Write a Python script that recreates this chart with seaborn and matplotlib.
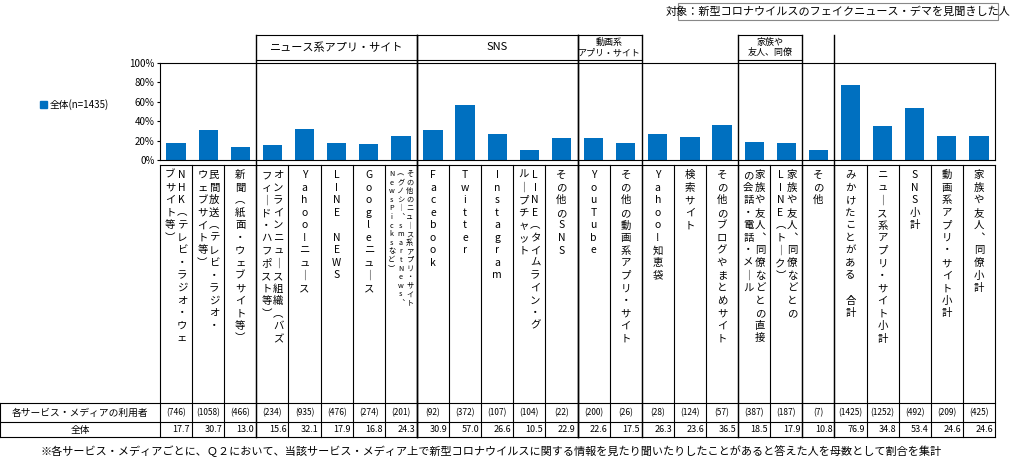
import matplotlib
matplotlib.use("Agg")
import matplotlib.pyplot as plt
import seaborn as sns
import pandas as pd
from matplotlib.lines import Line2D
from matplotlib.patches import Rectangle

plt.rcParams["font.family"] = ["Noto Sans CJK JP", "DejaVu Sans"]

labels = [
    ["NHK（テレビ・ラジオ・ウェ", "ブサイト等）"],
    ["民間放送（テレビ・ラジオ・", "ウェブサイト等）"],
    ["新聞（紙面・ウェブサイト等）"],
    ["オンラインニュース組織（バズ", "フィード・ハフポスト等）"],
    ["Yahoo!ニュース"],
    ["LINE NEWS"],
    ["Googleニュース"],
    ["その他のニュース系アプリ・サイト", "（グノシー、smartNews、", "NewsPicksなど）"],
    ["Facebook"],
    ["Twitter"],
    ["Instagram"],
    ["LINE（タイムライン・グ", "ループチャット"],
    ["その他のSNS"],
    ["YouTube"],
    ["その他の動画系アプリ・サイト"],
    ["Yahoo!知恵袋"],
    ["検索サイト"],
    ["その他のブログやまとめサイト"],
    ["家族や友人、同僚などとの直接", "の会話・電話・メール"],
    ["家族や友人、同僚などとの", "LINE（トーク）"],
    ["その他"],
    ["みかけたことがある　合計"],
    ["ニュース系アプリ・サイト小計"],
    ["SNS小計"],
    ["動画系アプリ・サイト小計"],
    ["家族や友人、同僚小計"],
]
values = [17.7, 30.7, 13.0, 15.6, 32.1, 17.9, 16.8, 24.3, 30.9, 57.0, 26.6, 10.5, 22.9,
          22.6, 17.5, 26.3, 23.6, 36.5, 18.5, 17.9, 10.8, 76.9, 34.8, 53.4, 24.6, 24.6]
users = ["(746)", "(1058)", "(466)", "(234)", "(935)", "(476)", "(274)", "(201)", "(92)",
         "(372)", "(107)", "(104)", "(22)", "(200)", "(26)", "(28)", "(124)", "(57)",
         "(387)", "(187)", "(7)", "(1425)", "(1252)", "(492)", "(209)", "(425)"]
groups = [("ニュース系アプリ・サイト", 3, 7), ("SNS", 8, 12), ("動画系\nアプリ・サイト", 13, 14),
          ("家族や\n友人、同僚", 18, 19)]
BLUE = "#0070C0"

W, H = 1024, 462
fig = plt.figure(figsize=(W / 100, H / 100), dpi=100)
x0, x1, ytop, ybot = 160, 995, 63, 160
ax = fig.add_axes([x0 / W, 1 - ybot / H, (x1 - x0) / W, (ybot - ytop) / H])
df = pd.DataFrame({"i": list(range(len(values))), "v": values})
sns.barplot(data=df, x="i", y="v", color=BLUE, width=0.6, ax=ax, saturation=1)
ax.set_xlim(-0.5, len(values) - 0.5)
ax.set_ylim(0, 100)
ax.set_yticks([0, 20, 40, 60, 80, 100])
ax.set_yticklabels([f"{t}%" for t in range(0, 101, 20)], fontsize=7)
ax.set_xticks([])
ax.set_xlabel("")
ax.set_ylabel("")
ax.tick_params(axis="y", length=2, pad=2)
for s in ax.spines.values():
    s.set_linewidth(0.8)

ov = fig.add_axes([0, 0, 1, 1], facecolor="none")
ov.set_xlim(0, W)
ov.set_ylim(H, 0)
ov.axis("off")
n = len(values)
cw = (x1 - x0) / n

def L(xs, ys, lw=0.8):
    ov.add_line(Line2D(xs, ys, color="black", lw=lw))

# grid of label area + table
yl0, yr1, yr2, yr3 = 165, 403, 422, 437
for y in [yl0, yr1, yr2, yr3]:
    L([x0 if y == yl0 else 0, x1], [y, y])
L([0, 0], [yr1, yr3])
for k in range(n + 1):
    xx = x0 + k * cw
    L([xx, xx], [yl0, yr3])

# group dividers and header boxes
for name, a, b in groups:
    xa, xb = x0 + a * cw, x0 + (b + 1) * cw
    L([xa, xb], [35, 35])
    L([xa, xb], [60, 60])
    L([xa, xa], [35, yr3], lw=1.0)
    L([xb, xb], [35, yr3], lw=1.0)
    ov.text((xa + xb) / 2, 47.5, name, ha="center", va="center",
            fontsize=8 if "\n" not in name else 6.5, linespacing=1.1)
L([x0 + 21 * cw] * 2, [35, yr3], lw=1.0)

# vertical labels
vmap = {"（": "︵", "）": "︶", "ー": "｜", "、": "︑", " ": "　"}
for i, cols in enumerate(labels):
    cx = x0 + (i + 0.5) * cw
    m = len(cols)
    fs = 7.5 if m < 3 else 5.2
    step = cw * (0.36 if m == 2 else 0.28)
    for j, col in enumerate(cols):
        ox = (m - 1) / 2 * step - j * step
        txt = "\n".join(vmap.get(c, c) for c in col)
        ov.text(cx + ox, yl0 + 5, txt, ha="center", va="top", fontsize=fs,
                linespacing=1.32 if m < 3 else 1.1)

# table text
ov.text(80, (yr1 + yr2) / 2, "各サービス・メディアの利用者", ha="center", va="center", fontsize=7)
ov.text(80, (yr2 + yr3) / 2, "全体", ha="center", va="center", fontsize=7)
for i in range(n):
    cx = x0 + (i + 0.5) * cw
    ov.text(cx, (yr1 + yr2) / 2, users[i], ha="center", va="center", fontsize=6)
    ov.text(x0 + (i + 1) * cw - 2, (yr2 + yr3) / 2, f"{values[i]:.1f}", ha="right", va="center", fontsize=6.5)

# legend
ov.add_patch(Rectangle((40, 101), 7, 7, color=BLUE))
ov.text(50, 105, "全体(n=1435)", ha="left", va="center", fontsize=7)

# title box
ov.add_patch(Rectangle((678, 3), 320, 17, fill=False, lw=0.8, ec="#888888"))
ov.text(838, 11.5, "対象：新型コロナウイルスのフェイクニュース・デマを見聞きした人", ha="center", va="center", fontsize=8)

ov.text(40, 451, "※各サービス・メディアごとに、Ｑ２において、当該サービス・メディア上で新型コロナウイルスに関する情報を見たり聞いたりしたことがあると答えた人を母数として割合を集計",
        ha="left", va="center", fontsize=8)

fig.savefig("out.png", dpi=100)
